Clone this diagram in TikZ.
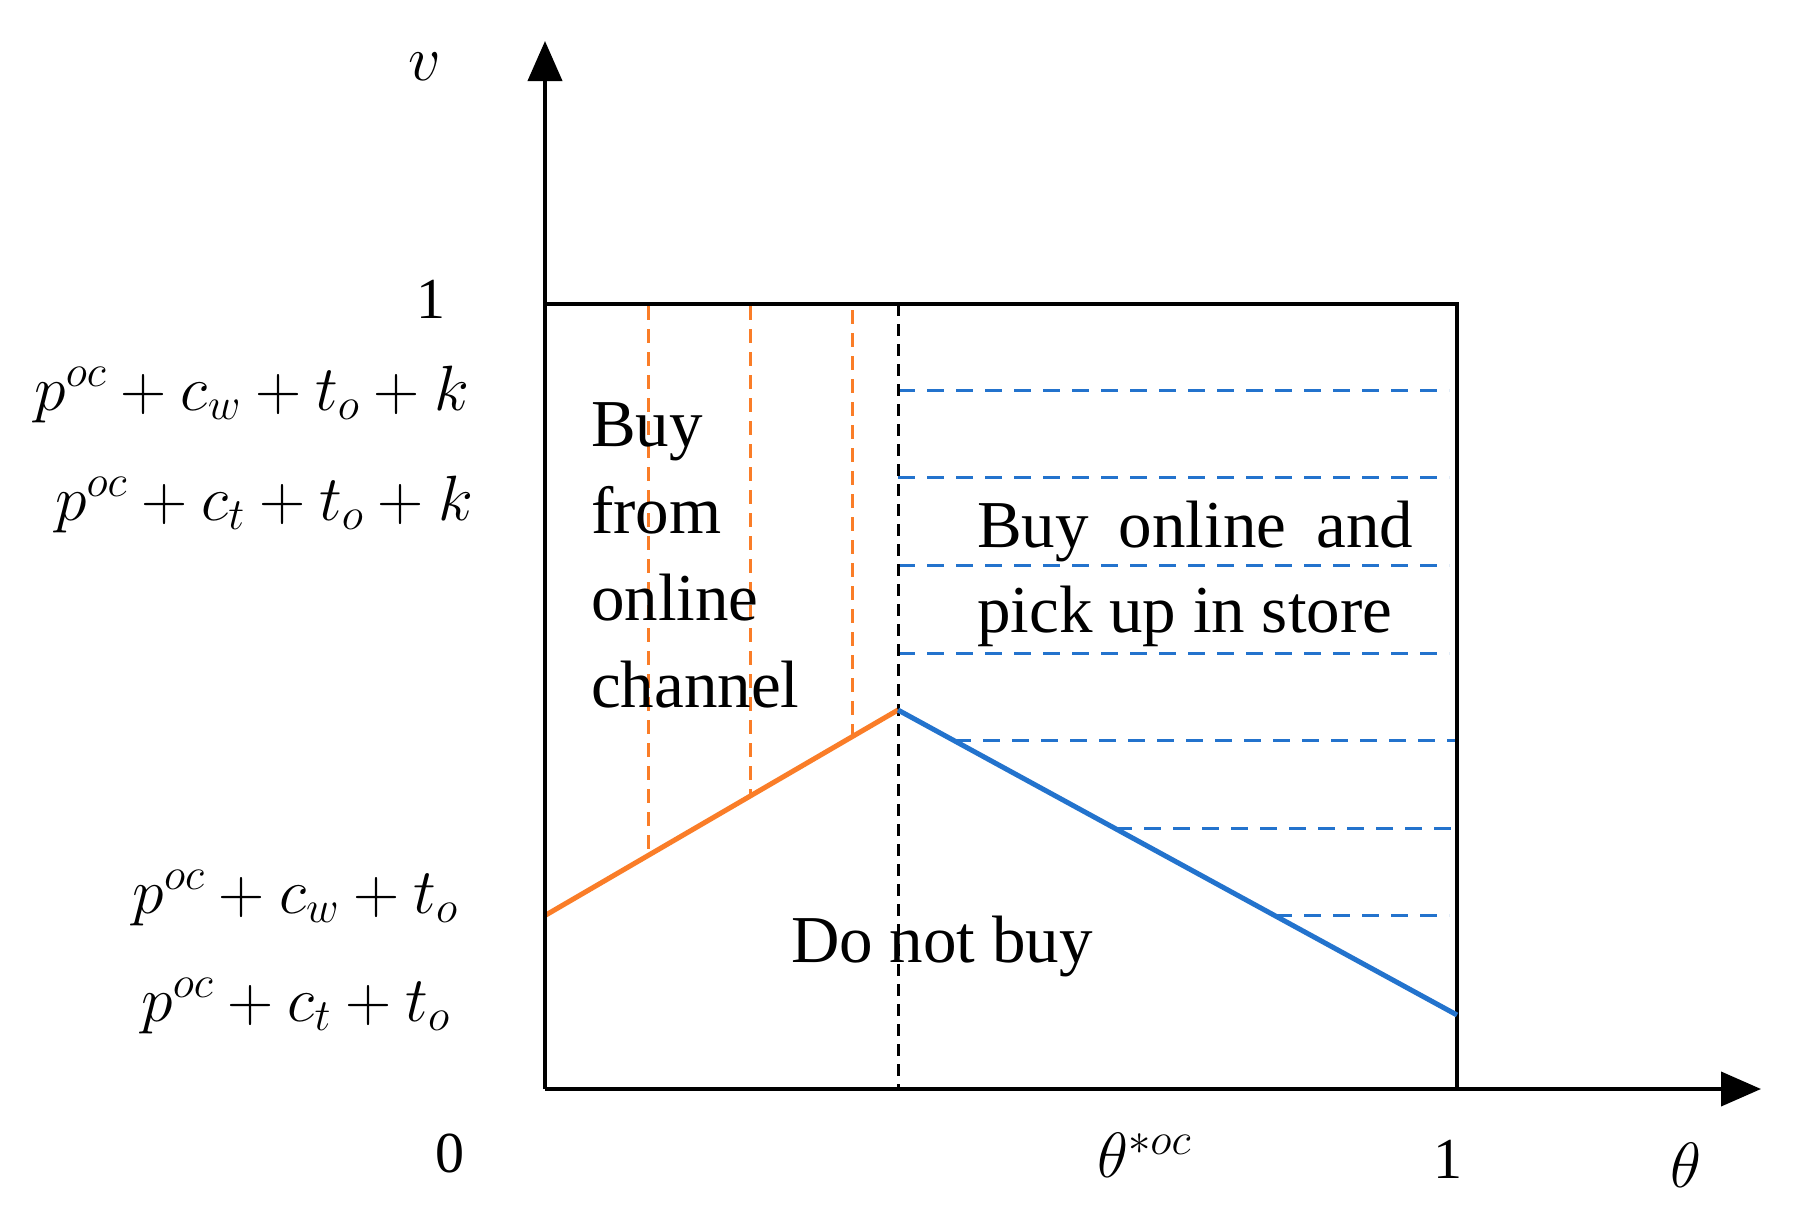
\documentclass[tikz,border=0pt]{standalone}
\usepackage{fix-cm}
\usepackage{fontspec}
\setmainfont{Liberation Serif}
\usetikzlibrary{arrows.meta}
\definecolor{orng}{RGB}{250,125,40}
\definecolor{blu}{RGB}{35,115,205}
\begin{document}
\begin{tikzpicture}[x=1pt,y=-1pt,
  txt/.style={font=\fontsize{67}{80}\selectfont, inner sep=0pt, anchor=base west},
  mlab/.style={font=\fontsize{64}{72}\selectfont, inner sep=0pt},
  num/.style={font=\fontsize{58}{70}\selectfont, inner sep=0pt},
  axisline/.style={line width=4pt, -{Triangle[length=40pt,width=34pt]}},
  boxline/.style={line width=3.2pt},
  sep/.style={black, line width=3pt, dash pattern=on 12pt off 8pt},
  odash/.style={orng, line width=3pt, dash pattern=on 14pt off 9pt},
  bdash/.style={blu, line width=3pt, dash pattern=on 17pt off 12pt},
  oline/.style={orng, line width=5pt},
  bline/.style={blu, line width=5pt}]
\useasboundingbox (0,0) rectangle (1817,1231);
\fill[white] (0,0) rectangle (1817,1231);
% key points
\coordinate (O) at (545,1089);
\coordinate (Ytip) at (545,41);
\coordinate (Xtip) at (1761,1089);
\coordinate (TL) at (545,304);
\coordinate (TR) at (1457,304);
\coordinate (BR) at (1457,1089);
\coordinate (A) at (545,915.5);
\coordinate (P) at (898,710);
\coordinate (B) at (1457,1015);
\coordinate (Ptop) at (898,304);
\coordinate (Pbot) at (898,1089);
% dashed regions
\draw[odash] (648,306) -- (648,855.5);
\draw[odash] (750,306) -- (750,796.2);
\draw[odash] (852,310) -- (852,736.8);
\draw[bdash] (898,390.5) -- (1449,390.5);
\draw[bdash] (898,477.4) -- (1449,477.4);
\draw[bdash] (898,565.5) -- (1449,565.5);
\draw[bdash] (898,653.6) -- (1449,653.6);
\draw[bdash] (954,740.5) -- (1457,740.5);
\draw[bdash] (1115,828.5) -- (1462,828.5);
\draw[bdash] (1275,915.5) -- (1449,915.5);
% box and separator
\draw[boxline] (TL) -- (TR) -- (BR);
\draw[sep] (Ptop) -- (Pbot);
% boundary lines
\draw[oline] (A) -- (P);
\draw[bline] (P) -- (B);
% axes
\draw[axisline] (O) -- (Ytip);
\draw[axisline] (O) -- (Xtip);
% axis labels
\node[mlab] (lv) at (425,67) {$v$};
\node[num] (l1y) at (431,299) {1};
\node[mlab, anchor=east] (l2) at (469,394) {$p^{oc}+c_w+t_o+k$};
\node[mlab, anchor=east] (l3) at (473,504) {$p^{oc}+c_t+t_o+k$};
\node[mlab, anchor=east] (l4) at (458,898) {$p^{oc}+c_w+t_o$};
\node[mlab, anchor=east] (l5) at (450,1006) {$p^{oc}+c_t+t_o$};
\node[num] (l0) at (450,1153) {0};
\node[mlab] (lth) at (1144,1155) {$\theta^{*oc}$};
\node[num] (l1x) at (1448,1159) {1};
\node[mlab] (lt) at (1686,1165) {$\theta$};
% region texts
\node[txt] (r1) at (591,446) {Buy};
\node[txt] (r2) at (591,533) {from};
\node[txt] (r3) at (591,620) {online};
\node[txt] (r4) at (591,707) {channel};
\node[txt] (s1) at (977,547) {Buy\hspace{30pt}online\hspace{30pt}and};
\node[txt] (s2) at (977,632) {pick up in store};
\node[txt] (d1) at (791,962) {Do not buy};
\end{tikzpicture}
\end{document}
